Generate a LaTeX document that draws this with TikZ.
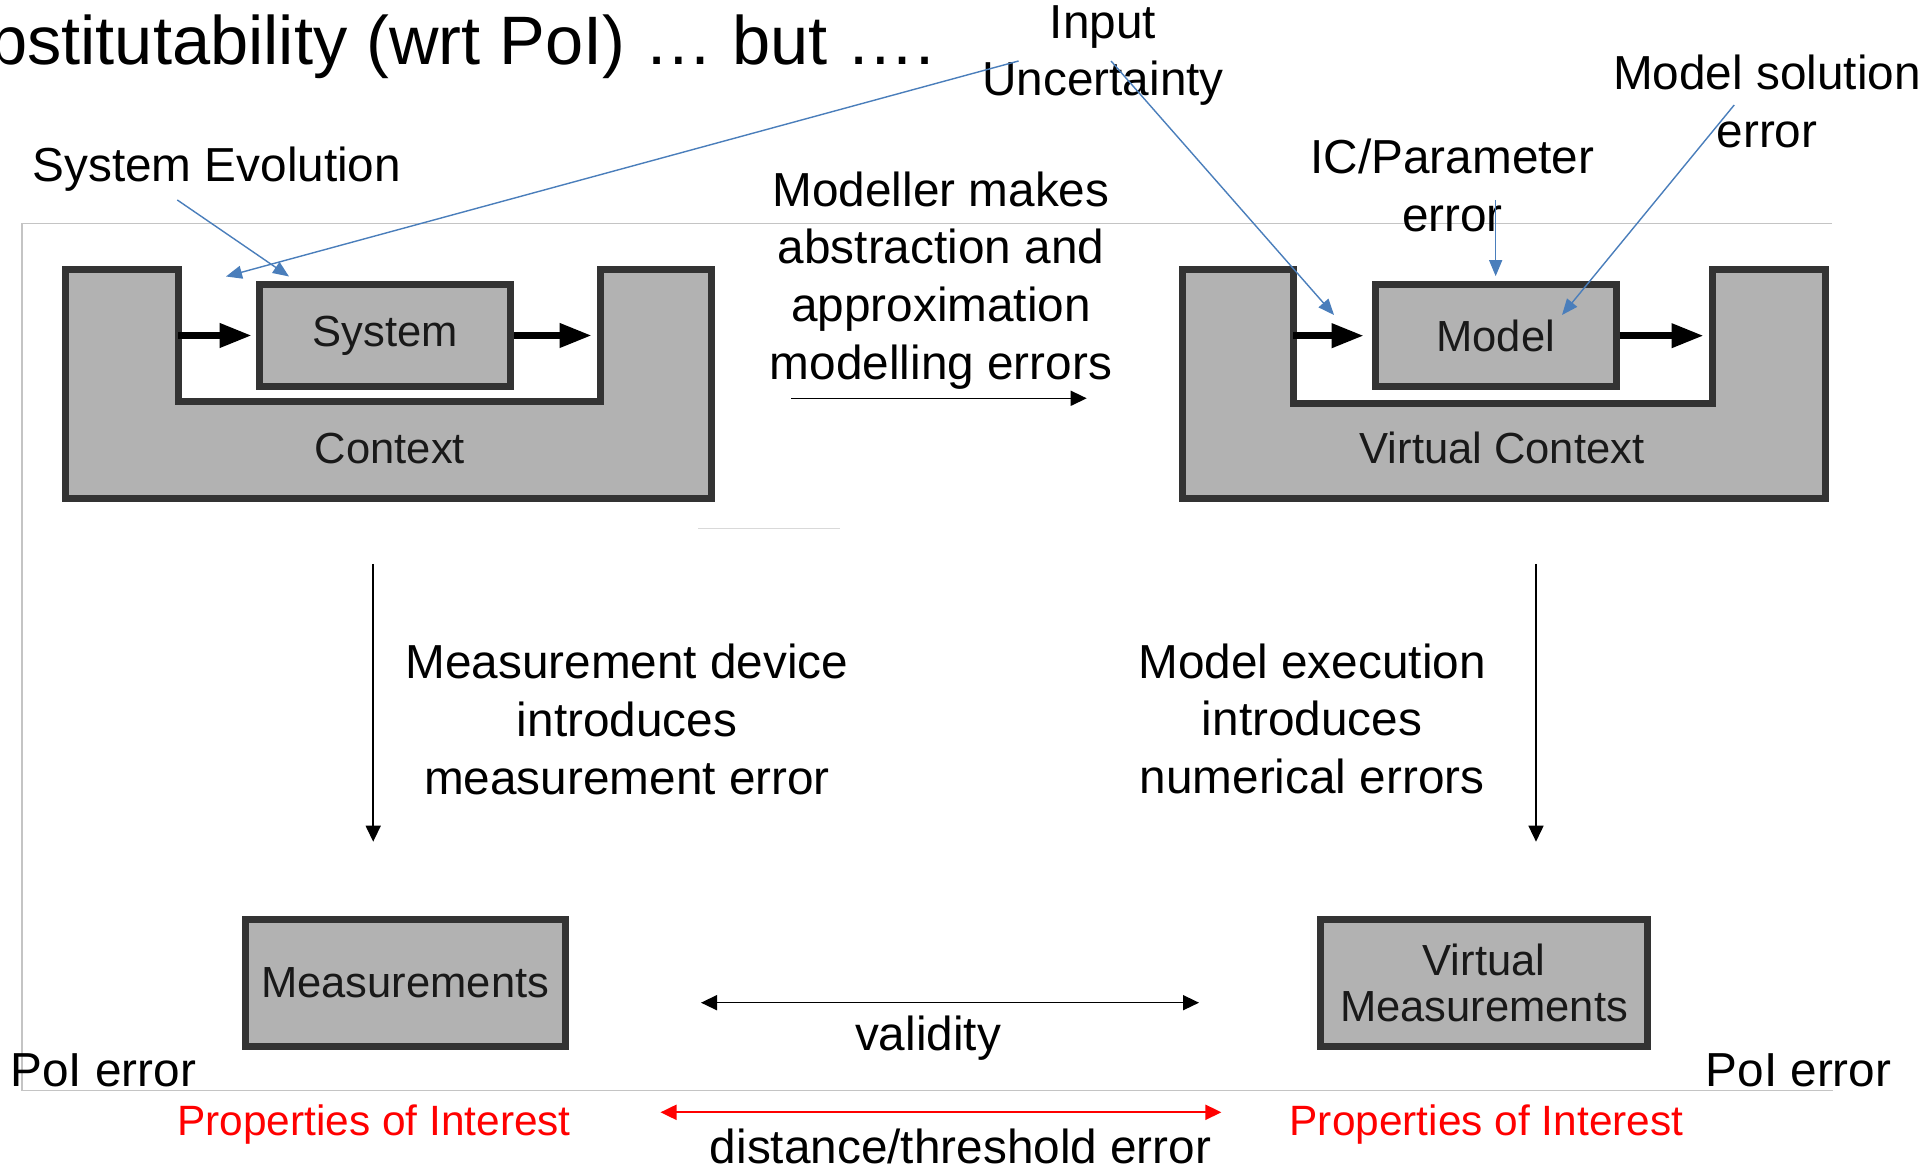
\documentclass[tikz,border=0pt]{standalone}
\usepackage{fontspec}
\setmainfont{Liberation Sans}
\usetikzlibrary{arrows.meta}
\definecolor{boxfill}{RGB}{178,178,178}
\definecolor{boxline}{RGB}{51,51,51}
\definecolor{callout}{RGB}{74,126,187}
\definecolor{framegray}{RGB}{196,196,196}
\definecolor{faintgray}{RGB}{217,217,217}
\definecolor{poired}{RGB}{255,0,0}
\begin{document}
\begin{tikzpicture}[x=0.01cm, y=-0.01cm,
  txt/.style={inner sep=0pt, align=center, font=\fontsize{13.57}{16.4}\selectfont},
  redtxt/.style={inner sep=0pt, text=poired, font=\fontsize{12.06}{14}\selectfont},
  boxlabel/.style={inner sep=0pt, text=black!90, font=\fontsize{12.38}{13.26}\selectfont},
  block/.style={draw=boxline, fill=boxfill, line width=0.7mm, inner sep=0pt,
    align=center, text=black!90, font=\fontsize{12.38}{13.26}\selectfont},
  wall/.style={draw=boxline, fill=boxfill, line width=0.7mm},
  flow/.style={line width=0.67mm, -{Triangle[length=3.2mm,width=2.3mm]}},
  callarrow/.style={draw=callout, line width=0.14mm, -{Triangle[length=1.6mm,width=1.3mm]}},
  thinarrow/.style={line width=0.15mm, -{Triangle[length=1.6mm,width=1.5mm]}},
  twoway/.style={line width=0.15mm, {Triangle[length=1.6mm,width=1.5mm]}-{Triangle[length=1.6mm,width=1.5mm]}},
]
\useasboundingbox (0,0) rectangle (1928,1168);
\clip (0,0) rectangle (1928,1168);

% slide frame and stray rule
\draw[framegray, line width=0.13mm] (1832,223.3) -- (22,223.3) -- (22,1090.7) -- (1833,1090.7);
\draw[faintgray, line width=0.13mm] (698.3,528.3) -- (840,528.3);

% heading (runs off the left edge of the page)
\node[inner sep=0pt, font=\fontsize{19.5}{22}\selectfont, anchor=base east] (title) at (935,65)
  {Substitutability (wrt PoI) … but ….};

% real world: context with the system inside
\draw[wall] (65.7,269.3) -- (178.3,269.3) -- (178.3,402) -- (600,402) -- (600,269.3)
  -- (711.7,269.3) -- (711.7,499) -- (65.7,499) -- cycle;
\node[boxlabel, anchor=base] (ctx) at (390,463.3) {Context};
\node[block, minimum width=2.514cm, minimum height=1.024cm] (sys) at (385,335.5) {System};
\coordinate (sysin) at (178.3,335.5);
\coordinate (sysout) at (591.7,335.5);
\draw[flow, shorten >=0.4mm] (sysin) -- (sys.west);
\draw[flow] (sys.east) -- (sysout);

% virtual world: virtual context with the model inside
\draw[wall] (1182,269.3) -- (1293,269.3) -- (1293,403.3) -- (1712.3,403.3) -- (1712.3,269.3)
  -- (1825.2,269.3) -- (1825.2,499) -- (1182,499) -- cycle;
\node[boxlabel, anchor=base] (vctx) at (1502,463.3) {Virtual Context};
\node[block, minimum width=2.407cm, minimum height=1.02cm] (model) at (1495.65,335.7) {Model};
\coordinate (modin) at (1293,335.7);
\coordinate (modout) at (1703.6,335.7);
\draw[flow, shorten >=0.8mm] (modin) -- (model.west);
\draw[flow] (model.east) -- (modout);

% measurement boxes
\node[block, minimum width=3.195cm, minimum height=1.26cm] (meas) at (405.25,983) {Measurements};
\node[block, minimum width=3.27cm, minimum height=1.26cm] (vmeas) at (1484,983) {Virtual\\Measurements};

% explanatory texts
\node[txt, anchor=base] (evol) at (216.8,181.7) {System Evolution};
\node[txt] (modeller) at (941,280.5) {Modeller makes\\abstraction and\\approximation\\modelling errors};
\node[txt] (input) at (1103,55.7) {Input\\Uncertainty};
\node[txt] (icpar) at (1452.5,185.5) {IC/Parameter\\error};
\node[txt] (solerr) at (1767,101.3) {Model solution\\error};
\node[txt] (measdev) at (627,719.3) {Measurement device\\introduces\\measurement error};
\node[txt] (modexec) at (1312,718.8) {Model execution\\introduces\\numerical errors};
\node[txt, anchor=base] (valid) at (928,1050) {validity};
\node[txt, anchor=base] (poiL) at (103.3,1086.7) {PoI error};
\node[txt, anchor=base] (poiR) at (1798.5,1086.7) {PoI error};
\node[redtxt, anchor=base] (propL) at (374,1135) {Properties of Interest};
\node[redtxt, anchor=base] (propR) at (1486.5,1135) {Properties of Interest};
\node[txt, anchor=base] (dist) at (960.6,1163) {distance/threshold error};

% black connectors
\coordinate (absA) at (791,398.3);
\coordinate (absB) at (1086.7,398.3);
\draw[thinarrow] (absA) -- (absB);
\coordinate (mdA) at (373.2,564);
\coordinate (mdB) at (373.2,841.7);
\draw[thinarrow] (mdA) -- (mdB);
\coordinate (meA) at (1536,564);
\coordinate (meB) at (1536,841.7);
\draw[thinarrow] (meA) -- (meB);
\coordinate (vaA) at (701,1002.7);
\coordinate (vaB) at (1199,1002.7);
\draw[twoway] (vaA) -- (vaB);
\coordinate (thA) at (660.5,1112.3);
\coordinate (thB) at (1221.4,1112.3);
\draw[twoway, draw=poired, fill=poired, line width=0.2mm] (thA) -- (thB);

% blue callouts
\coordinate (inS1) at (1018.6,61);
\coordinate (inT1) at (226,276.5);
\draw[callarrow] (inS1) -- (inT1);
\coordinate (evS) at (177.3,200);
\coordinate (evT) at (289,276.5);
\draw[callarrow] (evS) -- (evT);
\coordinate (inS2) at (1111,61);
\coordinate (inT2) at (1334,315);
\draw[callarrow] (inS2) -- (inT2);
\coordinate (icS) at (1495.65,200);
\draw[callarrow, shorten >=0.5mm] (icS) -- (model.north);
\coordinate (soS) at (1734.2,105);
\coordinate (soT) at (1562,315);
\draw[callarrow] (soS) -- (soT);
\end{tikzpicture}
\end{document}
